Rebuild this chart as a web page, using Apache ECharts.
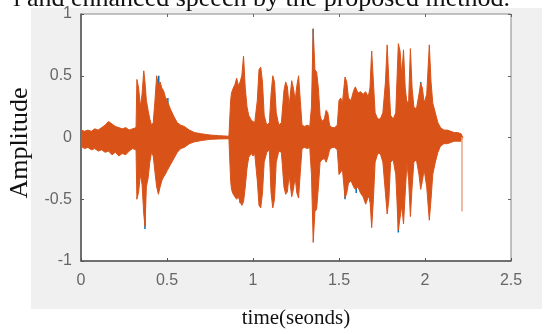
<!DOCTYPE html>
<html>
<head>
<meta charset="utf-8">
<script src="https://cdn.jsdelivr.net/npm/echarts@6/dist/echarts.min.js"></script>
<style>
  html, body { margin: 0; padding: 0; background: #fff; }
  #wrap { position: relative; width: 550px; height: 334px; overflow: hidden; }
  #panel { position: absolute; left: 31px; top: 8px; width: 511px; height: 301px; background: #f0f0f0; }
  #chart { position: absolute; left: 0; top: 0; width: 550px; height: 334px; }
</style>
</head>
<body>
<div id="wrap">
  <div id="panel"></div>
  <div id="chart"></div>
</div>
<script>
// envelope of the speech waveform (time in s)
var times = [0.00, 0.02, 0.04, 0.06, 0.08, 0.10, 0.12, 0.14, 0.16, 0.18, 0.20, 0.22, 0.24, 0.26, 0.28, 0.30, 0.32,
  0.325, 0.335, 0.345, 0.355, 0.365, 0.372, 0.38, 0.39, 0.40, 0.41, 0.42, 0.43, 0.44, 0.45, 0.46, 0.47, 0.48, 0.49, 0.50,
  0.52, 0.54, 0.56, 0.58, 0.60, 0.63, 0.66, 0.70, 0.75, 0.80, 0.86,
  0.87, 0.875, 0.885, 0.895, 0.905, 0.915, 0.925, 0.935, 0.945, 0.955, 0.965, 0.975, 0.99, 1.00, 1.01,
  1.025, 1.035, 1.045, 1.055, 1.065, 1.08, 1.095, 1.105, 1.115, 1.125, 1.135, 1.15, 1.165,
  1.18, 1.19, 1.20, 1.21, 1.225, 1.235, 1.245, 1.255, 1.265, 1.275, 1.285, 1.30, 1.315, 1.33,
  1.34, 1.35, 1.36, 1.37, 1.38, 1.39, 1.40, 1.415, 1.425, 1.435, 1.445, 1.46, 1.475, 1.49,
  1.50, 1.51, 1.52, 1.535, 1.545, 1.555, 1.57, 1.585, 1.595, 1.61, 1.625, 1.64, 1.655, 1.67, 1.68, 1.69, 1.70, 1.71,
  1.725, 1.74, 1.755, 1.77, 1.78, 1.79, 1.80, 1.815, 1.83, 1.845, 1.855, 1.865, 1.875, 1.885, 1.895, 1.905, 1.915, 1.925,
  1.935, 1.95, 1.965, 1.975, 1.985, 1.995, 2.01, 2.025, 2.035, 2.045, 2.06, 2.075, 2.09, 2.11, 2.13, 2.15, 2.17, 2.19, 2.21, 2.22]
var upper = [0.06, 0.05, 0.06, 0.05, 0.07, 0.06, 0.08, 0.10, 0.13, 0.11, 0.09, 0.08, 0.07, 0.08, 0.06, 0.07, 0.08,
  0.47, 0.40, 0.25, 0.35, 0.54, 0.45, 0.30, 0.22, 0.15, 0.10, 0.12, 0.30, 0.50, 0.42, 0.45, 0.40, 0.38, 0.33, 0.30,
  0.23, 0.17, 0.12, 0.10, 0.09, 0.06, 0.04, 0.03, 0.02, 0.015, 0.01,
  0.30, 0.36, 0.40, 0.43, 0.48, 0.42, 0.45, 0.50, 0.66, 0.40, 0.25, 0.18, 0.14, 0.15, 0.12,
  0.30, 0.55, 0.57, 0.45, 0.18, 0.10, 0.12, 0.35, 0.50, 0.45, 0.20, 0.10, 0.12,
  0.38, 0.45, 0.41, 0.25, 0.46, 0.40, 0.30, 0.42, 0.50, 0.30, 0.10, 0.09, 0.10, 0.09,
  0.25, 0.88, 0.55, 0.53, 0.40, 0.18, 0.13, 0.15, 0.22, 0.20, 0.10, 0.08, 0.08, 0.10,
  0.30, 0.32, 0.28, 0.49, 0.45, 0.32, 0.30, 0.38, 0.41, 0.36, 0.37, 0.35, 0.37, 0.33, 0.40, 0.70, 0.45, 0.20,
  0.15, 0.15, 0.20, 0.45, 0.75, 0.45, 0.18, 0.15, 0.20, 0.76, 0.70, 0.50, 0.71, 0.40, 0.28, 0.30, 0.72, 0.40,
  0.25, 0.23, 0.35, 0.44, 0.40, 0.28, 0.35, 0.75, 0.45, 0.28, 0.20, 0.12, 0.08, 0.06, 0.06, 0.05, 0.04, 0.04, 0.03, 0]
var lower = [-0.07, -0.09, -0.08, -0.10, -0.09, -0.11, -0.10, -0.12, -0.11, -0.14, -0.12, -0.15, -0.13, -0.14, -0.11, -0.09, -0.10,
  -0.50, -0.44, -0.30, -0.38, -0.62, -0.72, -0.40, -0.33, -0.20, -0.12, -0.15, -0.28, -0.40, -0.46, -0.40, -0.35, -0.32, -0.30, -0.27,
  -0.22, -0.17, -0.12, -0.09, -0.08, -0.05, -0.035, -0.025, -0.015, -0.012, -0.01,
  -0.35, -0.42, -0.46, -0.45, -0.50, -0.48, -0.52, -0.55, -0.52, -0.40, -0.25, -0.16, -0.13, -0.15, -0.13,
  -0.35, -0.55, -0.57, -0.45, -0.20, -0.12, -0.10, -0.45, -0.57, -0.50, -0.20, -0.11, -0.12,
  -0.40, -0.46, -0.44, -0.30, -0.48, -0.42, -0.32, -0.45, -0.49, -0.28, -0.09, -0.08, -0.09, -0.08,
  -0.30, -0.85, -0.60, -0.58, -0.40, -0.20, -0.18, -0.17, -0.20, -0.16, -0.10, -0.08, -0.08, -0.10,
  -0.30, -0.31, -0.26, -0.49, -0.45, -0.37, -0.35, -0.40, -0.42, -0.40, -0.45, -0.48, -0.54, -0.48, -0.50, -0.73, -0.50, -0.20,
  -0.13, -0.13, -0.20, -0.45, -0.62, -0.50, -0.20, -0.18, -0.30, -0.75, -0.65, -0.55, -0.70, -0.45, -0.20, -0.35, -0.64, -0.40,
  -0.20, -0.18, -0.30, -0.42, -0.35, -0.26, -0.40, -0.67, -0.50, -0.30, -0.20, -0.12, -0.07, -0.05, -0.05, -0.04, -0.03, -0.03, -0.03, 0]

// places where the noisy (blue) signal pokes out under the enhanced one
var blueTipTimes = [0.372, 0.452, 0.505, 0.925, 1.35, 1.535, 1.60, 1.68, 1.845, 1.975]
var blueTipValues = [-0.74, 0.50, 0.32, -0.53, 0.88, -0.50, -0.45, -0.52, -0.77, 0.45]

// pale last sample
var tailTime = 2.215
var tailValue = -0.60

var xTicks = [0, 0.5, 1, 1.5, 2, 2.5]
var yTicks = [-1, -0.5, 0, 0.5, 1]

var orange = '#D95319'
var blue = '#0072BD'

var upperData = times.map(function (t, i) { return [t, upper[i]] })
var lowerData = times.map(function (t, i) { return [t, lower[i]] })
var blueData = []
blueTipTimes.forEach(function (t, i) {
  blueData.push([t, 0], [t, blueTipValues[i]], [t, null])
})
// covers the seam where the two filled halves meet
var seamData = [[times[0], 0], [times[times.length - 2], 0]]

var chart = echarts.init(document.getElementById('chart'))
var tickLabel = { color: '#666', fontSize: 16, fontFamily: 'Liberation Sans, Arial, sans-serif' }
var option = {
  backgroundColor: 'transparent',
  animation: false,
  grid: {
    left: 81, right: 39, top: 14, bottom: 62,
    show: true, backgroundColor: '#fff', borderColor: '#888', borderWidth: 1
  },
  graphic: [
    {
      type: 'text', x: 510, y: -1,
      style: {
        text: 'l and enhanced speech by the proposed method.',
        font: '26px "Liberation Serif", "Times New Roman", serif',
        fill: '#111', align: 'right', verticalAlign: 'middle'
      }
    },
    {
      type: 'text', x: 20, y: 143, rotation: Math.PI / 2,
      style: {
        text: 'Amplitude',
        font: '26px "Liberation Serif", "Times New Roman", serif',
        fill: '#111', align: 'center', verticalAlign: 'middle'
      }
    }
  ],
  xAxis: [
    {
      type: 'value', min: xTicks[0], max: xTicks[xTicks.length - 1], interval: 0.5,
      name: 'time(seonds)', nameLocation: 'middle', nameGap: 47,
      nameTextStyle: { color: '#111', fontSize: 21, fontFamily: 'Liberation Serif, serif' },
      axisLine: { onZero: false, lineStyle: { color: '#555', width: 1.5 } },
      axisTick: { inside: true, length: 3, lineStyle: { color: '#555' } },
      axisLabel: Object.assign({ margin: 12 }, tickLabel),
      splitLine: { show: false }
    },
    {
      type: 'value', position: 'top', min: xTicks[0], max: xTicks[xTicks.length - 1], interval: 0.5,
      axisLine: { show: false, onZero: false },
      axisTick: { inside: true, length: 3, lineStyle: { color: '#666' } },
      axisLabel: { show: false }, splitLine: { show: false }
    }
  ],
  yAxis: [
    {
      type: 'value', min: yTicks[0], max: yTicks[yTicks.length - 1], interval: 0.5,
      axisLine: { show: true, onZero: false, lineStyle: { color: '#555', width: 1.5 } },
      axisTick: { show: true, inside: true, length: 3, lineStyle: { color: '#555' } },
      axisLabel: Object.assign({ margin: 9 }, tickLabel),
      splitLine: { show: false }
    },
    {
      type: 'value', position: 'right', min: yTicks[0], max: yTicks[yTicks.length - 1], interval: 0.5,
      axisLine: { show: false, onZero: false },
      axisTick: { show: true, inside: true, length: 3, lineStyle: { color: '#666' } },
      axisLabel: { show: false }, splitLine: { show: false }
    }
  ],
  series: [
    {
      name: 'noisy', type: 'line', data: blueData, showSymbol: false, connectNulls: false,
      lineStyle: { color: blue, width: 1.5 }, z: 1
    },
    {
      name: 'enhanced+', type: 'line', data: upperData, showSymbol: false,
      lineStyle: { color: orange, width: 1 }, areaStyle: { color: orange, opacity: 1 }, z: 2
    },
    {
      name: 'enhanced-', type: 'line', data: lowerData, showSymbol: false,
      lineStyle: { color: orange, width: 1 }, areaStyle: { color: orange, opacity: 1 }, z: 2
    },
    {
      name: 'seam', type: 'line', data: seamData, showSymbol: false,
      lineStyle: { color: orange, width: 2 }, z: 3
    },
    {
      name: 'tail', type: 'line', data: [[tailTime, 0], [tailTime, tailValue]], showSymbol: false,
      lineStyle: { color: '#e9a488', width: 1.5 }, z: 2
    }
  ]
}
chart.setOption(option)
</script>
</body>
</html>
